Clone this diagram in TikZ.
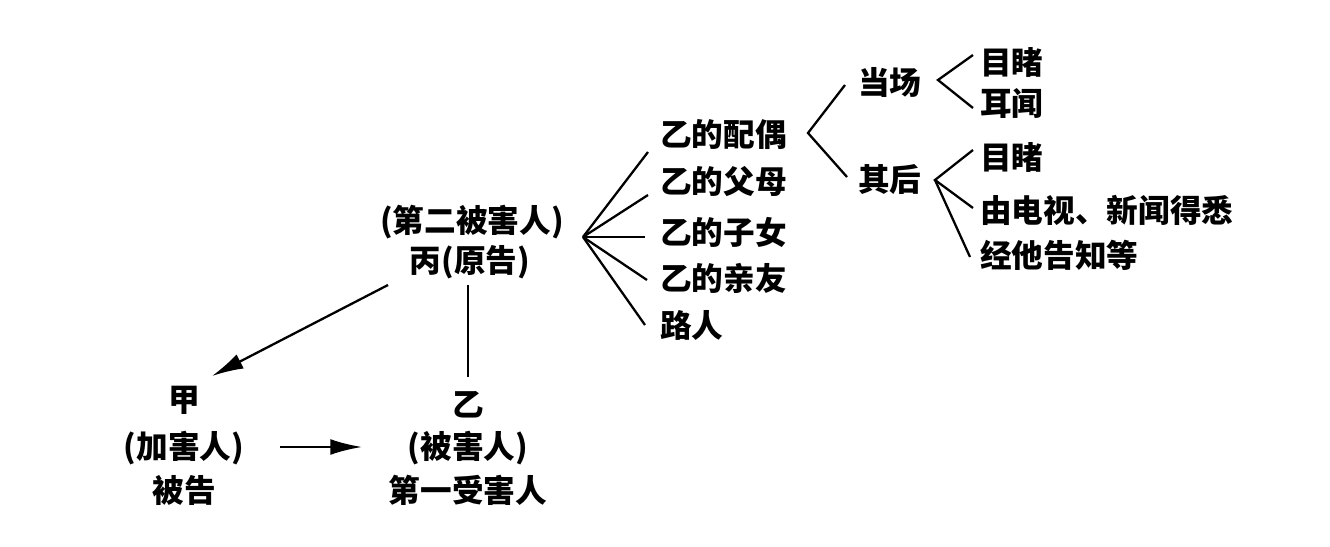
\documentclass[tikz,border=0pt]{standalone}
\usepackage{fontspec}
\setmainfont{Noto Sans CJK SC}
\usetikzlibrary{arrows.meta}
\tikzset{
  lbl/.style={inner sep=0pt, font=\fontsize{18}{22}\selectfont\bfseries},
  lw/.style={anchor=west, inner sep=0pt, font=\fontsize{18}{22}\selectfont\bfseries},
  ln/.style={line width=1.3pt},
  arr/.style={line width=1.3pt, -{Latex[length=18pt,width=9pt]}}
}
\begin{document}
\begin{tikzpicture}[x=0.02cm,y=-0.02cm]
\useasboundingbox (0,0) rectangle (1330,547);
% central node
\node[lbl] (b1) at (472,222) {(第二被害人)};
\node[lbl] (b2) at (470,262) {丙(原告)};
% relatives
\node[lw] (r1) at (660,135) {乙的配偶};
\node[lw] (r2) at (660,182) {乙的父母};
\node[lw] (r3) at (660,232) {乙的子女};
\node[lw] (r4) at (660,278) {乙的亲友};
\node[lw] (r5) at (660,325) {路人};
\coordinate (fan) at (583,237);
\coordinate (e1) at (648,152);
\coordinate (e2) at (648,195);
\coordinate (e3) at (645,237);
\coordinate (e4) at (647,280);
\coordinate (e5) at (645,325);
\foreach \e in {e1,e2,e3,e4,e5} \draw[ln] (fan) -- (\e);
% spouse split
\node[lw] (s1) at (858,82) {当场};
\node[lw] (s2) at (858,180) {其后};
\coordinate (v1) at (808,133);
\draw[ln] (845,85) -- (v1) -- (847,177);
% on the spot
\node[lw] (t1) at (980,62) {目睹};
\node[lw] (t2) at (980,103) {耳闻};
\draw[ln] (973,55) -- (938,80) -- (973,108);
% afterwards
\node[lw] (u1) at (980,157) {目睹};
\node[lw] (u2) at (980,210) {由电视、新闻得悉};
\node[lw] (u3) at (980,255) {经他告知等};
\coordinate (v3) at (935,180);
\draw[ln] (973,150) -- (v3) -- (973,208);
\draw[ln] (v3) -- (970,257);
% lower part
\node[lbl] (j1) at (184,400) {甲};
\node[lbl] (j2) at (184,448) {(加害人)};
\node[lbl] (j3) at (184,490) {被告};
\node[lbl] (y1) at (468,405) {乙};
\node[lbl] (y2) at (468,448) {(被害人)};
\node[lbl] (y3) at (468,490) {第一受害人};
\coordinate (a1s) at (388,285);
\coordinate (a1e) at (212,376);
\draw[arr] (a1s) -- (a1e);
\coordinate (vs) at (468,285);
\coordinate (ve) at (468,377);
\draw[ln] (vs) -- (ve);
\coordinate (hs) at (280,447);
\coordinate (he) at (362,447);
\draw[arr] (hs) -- (he);
\end{tikzpicture}
\end{document}
